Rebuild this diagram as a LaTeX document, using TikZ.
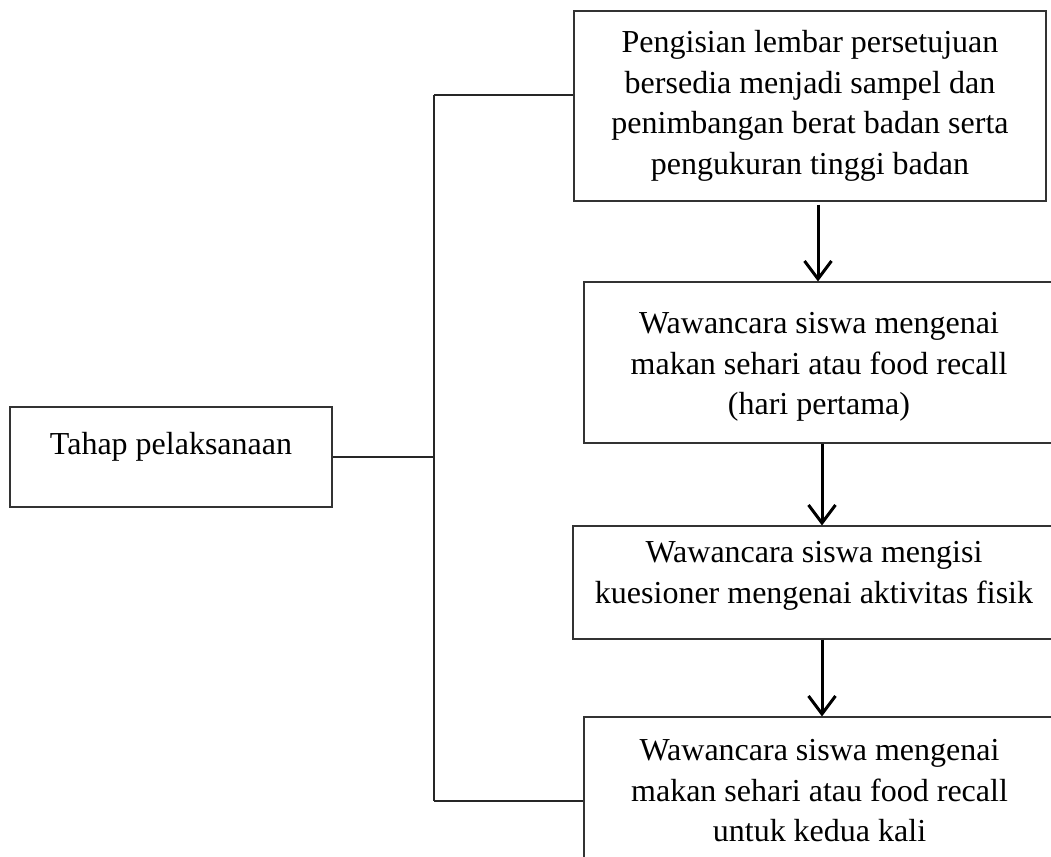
\documentclass[tikz,border=0pt]{standalone}
\usepackage{fontspec}
\setmainfont{Liberation Serif}
\usetikzlibrary{arrows.meta}
\tikzset{
  boxnode/.style={draw=black!80, line width=1.1pt, rectangle, inner sep=0pt},
  txt/.style={align=center, inner sep=0pt, font=\fontsize{32}{40.5}\selectfont},
  conn/.style={draw=black!85, line width=1.4pt},
  arr/.style={draw=black, line width=3pt, -{Straight Barb[length=18pt,width=27pt,line width=3pt]}}
}
\begin{document}
\begin{tikzpicture}[x=1pt,y=-1pt]
\useasboundingbox (0,0) rectangle (1051,856);
\clip (0,0) rectangle (1051,856);
% boxes
\node[boxnode, minimum width=322pt, minimum height=100pt] (lb) at (171,457) {};
\node[boxnode, minimum width=472pt, minimum height=190pt] (b1) at (810,106) {};
\node[boxnode, minimum width=470pt, minimum height=161pt] (b2) at (819,362.5) {};
\node[boxnode, minimum width=482pt, minimum height=113pt] (b3) at (814,582.5) {};
\node[boxnode, minimum width=471pt, minimum height=148pt] (b4) at (819.5,791) {};
% texts
\node[txt] (tlb) at (171,447) {Tahap pelaksanaan};
\node[txt] (tb1) at (810,106) {Pengisian lembar persetujuan\\bersedia menjadi sampel dan\\penimbangan berat badan serta\\pengukuran tinggi badan};
\node[txt] (tb2) at (819,367) {Wawancara siswa mengenai\\makan sehari atau food recall\\(hari pertama)};
\node[txt] (tb3) at (814,576) {Wawancara siswa mengisi\\kuesioner mengenai aktivitas fisik};
\node[txt] (tb4) at (819.5,791) {Wawancara siswa mengenai\\makan sehari atau food recall\\untuk kedua kali};
% spine
\coordinate (jt) at (434,95);
\coordinate (jb) at (434,801);
\draw[conn] (lb.east) -- (lb.east -| jt);
\draw[conn] (jt) -- (jb);
\draw[conn] (jt) -- (jt -| b1.west);
\draw[conn] (jb) -- (jb -| b4.west);
% arrows
\draw[arr] ([xshift=8pt,yshift=-3pt]b1.south) -- ([xshift=8pt]b1.south |- b2.north);
\draw[arr] ([xshift=3pt]b2.south) -- ([xshift=3pt]b2.south |- b3.north);
\draw[arr] ([xshift=8pt]b3.south) -- ([xshift=8pt]b3.south |- b4.north);
\end{tikzpicture}
\end{document}
